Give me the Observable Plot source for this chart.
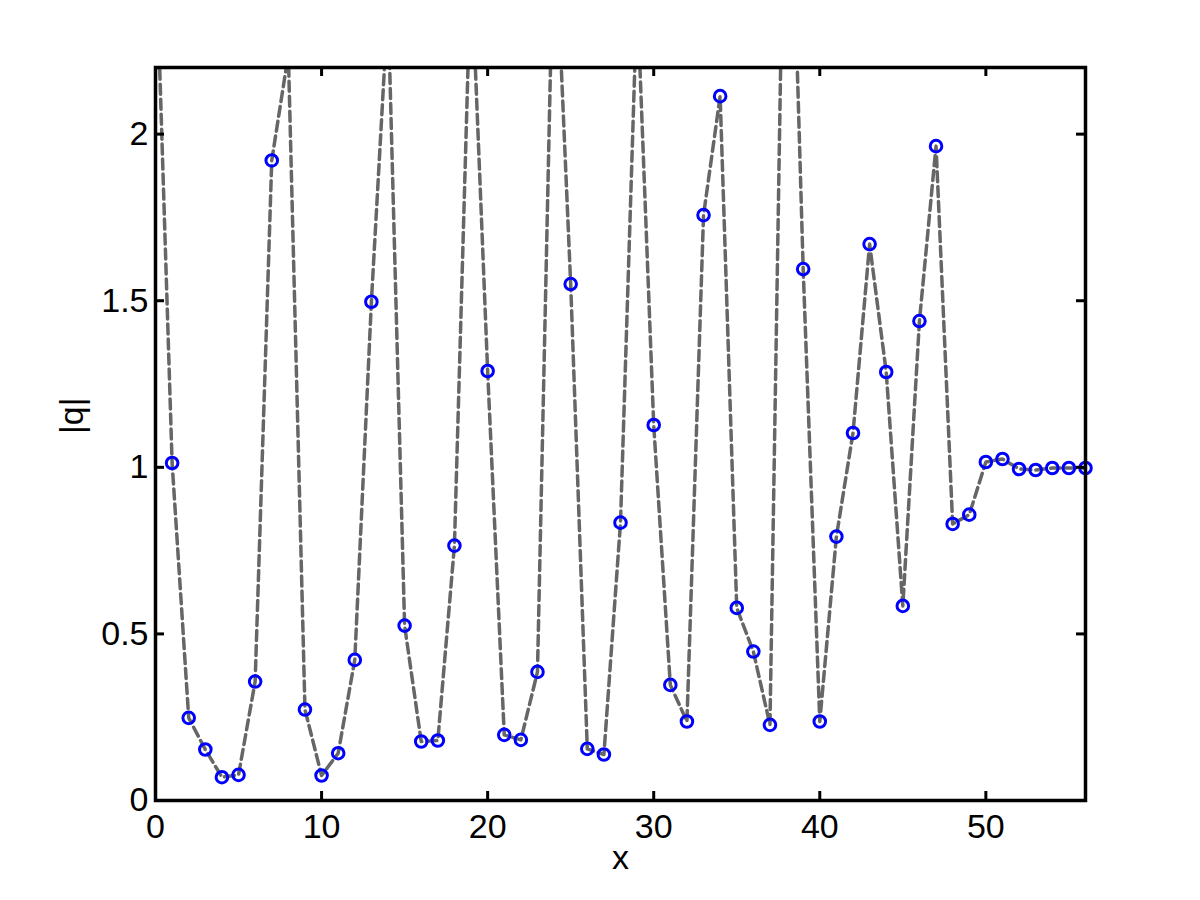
<!DOCTYPE html>
<html><head><meta charset="utf-8">
<script src="https://cdn.jsdelivr.net/npm/d3@7"></script>
<script src="https://cdn.jsdelivr.net/npm/@observablehq/plot@0.6"></script>
<style>html,body{margin:0;padding:0;background:#fff}</style>
</head><body><div id="chart"></div>
<script>
const xValues = [0,1,2,3,4,5,6,7,8,9,10,11,12,13,14,15,16,17,18,19,20,21,22,23,24,25,26,27,28,29,30,31,32,33,34,35,36,37,38,39,40,41,42,43,44,45,46,47,48,49,50,51,52,53,54,55,56];
const qValues = [2.60,1.013,0.248,0.153,0.070,0.077,0.357,1.921,2.24,0.273,0.075,0.142,0.422,1.497,2.39,0.525,0.177,0.180,0.765,2.52,1.289,0.197,0.182,0.386,2.70,1.550,0.155,0.138,0.834,2.42,1.127,0.347,0.237,1.757,2.114,0.578,0.447,0.227,3.30,1.595,0.237,0.792,1.103,1.670,1.286,0.584,1.439,1.964,0.830,0.858,1.016,1.025,0.995,0.992,0.998,0.998,0.998];
const xTicks = [0,10,20,30,40,50];
const yTicks = [0,0.5,1,1.5,2];
const yTickLabels = ["0","0.5","1","1.5","2"];
const xDomain = [0,56];
const yDomain = [0,2.2];
const xLabel = "x";
const yLabel = "|q|";

const data = xValues.map((x,i)=>({x, q:qValues[i]}));
const W=1200,H=900, mL=155, mR=115, mT=67, mB=100;
const plotW = W-mL-mR, plotH = H-mT-mB;
const tickLen = 9;
const fs = 34;
const fontFamily = "'Liberation Sans', Arial, Helvetica, sans-serif";
const chart = Plot.plot({
  width: W, height: H, marginLeft: mL, marginRight: mR, marginTop: mT, marginBottom: mB,
  style: {fontFamily, fontSize: fs + "px", background: "white", color: "black"},
  x: {domain: xDomain, label: null},
  y: {domain: yDomain, label: null},
  marks: [
    Plot.line(data, {x:"x", y:"q", stroke:"#666666", strokeWidth:3.5, strokeDasharray:"10,5", clip:true}),
    Plot.dot(data, {x:"x", y:"q", r:5.8, stroke:"#0000ff", strokeWidth:3, fill:"none", filter: d=>d.q<=yDomain[1]}),
    Plot.tickX(xTicks, {x: d=>d, stroke:"black", strokeWidth:3, insetTop: plotH - tickLen}),
    Plot.tickX(xTicks, {x: d=>d, stroke:"black", strokeWidth:3, insetBottom: plotH - tickLen}),
    Plot.tickY(yTicks, {y: d=>d, stroke:"black", strokeWidth:3, insetRight: plotW - tickLen}),
    Plot.tickY(yTicks, {y: d=>d, stroke:"black", strokeWidth:3, insetLeft: plotW - tickLen}),
    Plot.frame({stroke:"black", strokeWidth:3.5}),
    Plot.axisX({ticks: xTicks, tickSize:0, tickPadding: 13, fontSize: fs, label: null}),
    Plot.axisY({ticks: yTicks, tickSize:0, tickPadding: 7, fontSize: fs, label: null, tickFormat: (d,i) => yTickLabels[yTicks.indexOf(d)]}),
    Plot.text([xLabel], {frameAnchor:"bottom", dy: 68, fontSize: fs, text: d=>d}),
    Plot.text([yLabel], {frameAnchor:"left", dx:-83, rotate:-90, fontSize: fs, text: d=>d})
  ]
});
document.getElementById("chart").appendChild(chart);
</script>
</body></html>
